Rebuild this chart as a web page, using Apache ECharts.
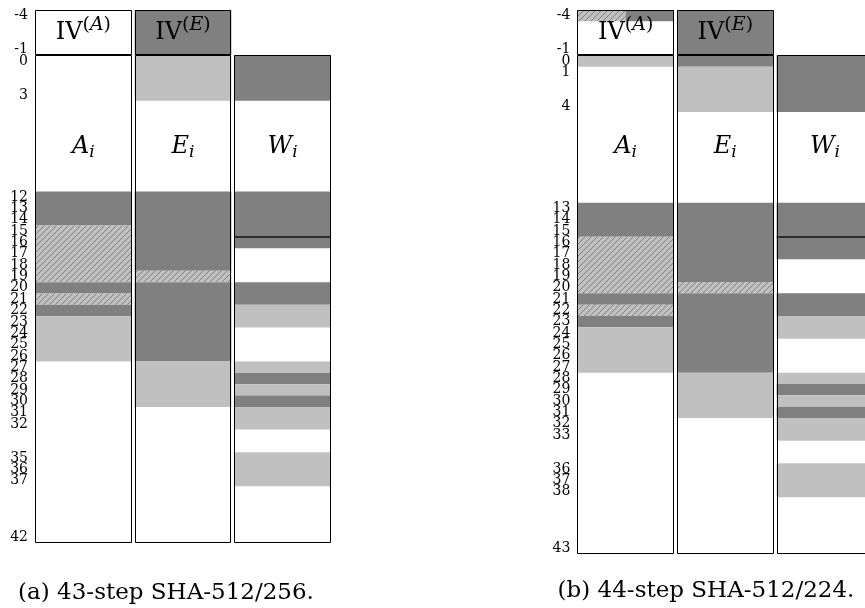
<!DOCTYPE html>
<html><head><meta charset="utf-8">
<script src="https://cdn.jsdelivr.net/npm/echarts@6/dist/echarts.min.js"></script>
<style>html,body{margin:0;padding:0;background:#fff}#c{width:865px;height:608px}</style>
</head><body><div id="c"></div>
<script>
// ---------- data ----------
const columnNames = ['A', 'E', 'W'];          // A_i, E_i, W_i
const ivNames = ['A', 'E'];                    // IV^(A) over A, IV^(E) over E
const captionA = '(a) 43-step SHA-512/256.';
const captionB = '(b) 44-step SHA-512/224.';
const rangeA = [-4, 43];                        // step bands -4 .. 42
const rangeB = [-4, 44];                        // step bands -4 .. 43
const ticksA = [-4, -1, 0, 3, 12, 13, 14, 15, 16, 17, 18, 19, 20, 21, 22, 23, 24, 25, 26, 27, 28, 29, 30, 31, 32, 35, 36, 37, 42];
const ticksB = [-4, -1, 0, 1, 4, 13, 14, 15, 16, 17, 18, 19, 20, 21, 22, 23, 24, 25, 26, 27, 28, 29, 30, 31, 32, 33, 36, 37, 38, 43];
// [column, fromStep, toStep(exclusive), kind, part]  kind: D dark, L light, H hatched; part: 0 full, 1 left half, 2 right half
const segsA = [
  [0, 12, 15, 'D', 0], [0, 15, 20, 'H', 0], [0, 20, 21, 'D', 0], [0, 21, 22, 'H', 0], [0, 22, 23, 'D', 0], [0, 23, 27, 'L', 0],
  [1, -4, 0, 'D', 0], [1, 0, 4, 'L', 0], [1, 12, 19, 'D', 0], [1, 19, 20, 'H', 0], [1, 20, 27, 'D', 0], [1, 27, 31, 'L', 0],
  [2, 0, 4, 'D', 0], [2, 12, 17, 'D', 0], [2, 20, 22, 'D', 0], [2, 22, 24, 'L', 0], [2, 27, 28, 'L', 0], [2, 28, 29, 'D', 0],
  [2, 29, 30, 'L', 0], [2, 30, 31, 'D', 0], [2, 31, 33, 'L', 0], [2, 35, 38, 'L', 0]
];
const segsB = [
  [0, -4, -3, 'H', 1], [0, -4, -3, 'D', 2], [0, 0, 1, 'L', 0], [0, 13, 16, 'D', 0], [0, 16, 21, 'H', 0], [0, 21, 22, 'D', 0],
  [0, 22, 23, 'H', 0], [0, 23, 24, 'D', 0], [0, 24, 28, 'L', 0],
  [1, -4, 0, 'D', 0], [1, 0, 1, 'D', 0], [1, 1, 5, 'L', 0], [1, 13, 20, 'D', 0], [1, 20, 21, 'H', 0], [1, 21, 28, 'D', 0], [1, 28, 32, 'L', 0],
  [2, 0, 5, 'D', 0], [2, 13, 18, 'D', 0], [2, 21, 23, 'D', 0], [2, 23, 25, 'L', 0], [2, 28, 29, 'L', 0], [2, 29, 30, 'D', 0],
  [2, 30, 31, 'L', 0], [2, 31, 32, 'D', 0], [2, 32, 34, 'L', 0], [2, 36, 39, 'L', 0]
];
// outlined boxes [column, fromStep, toStep]
const boxesA = [[0, -4, 0], [0, 0, 43], [1, -4, 0], [1, 0, 43], [2, 0, 43]];
const boxesB = [[0, -4, 0], [0, 0, 44], [1, -4, 0], [1, 0, 44], [2, 0, 44]];
// black separator lines [column, atStep]
const linesA = [[2, 16]];
const linesB = [[2, 16]];

// ---------- style / layout ----------
const SERIF = '"DejaVu Serif", "Liberation Serif", serif';
const COLW = 0.97;
const IV_POS = -1.95, NAME_POS = 8.05;
const DARK = '#808080', LIGHT = '#c0c0c0';

function makeHatch() {
  const p = 6, cv = document.createElement('canvas');
  cv.width = p; cv.height = p;
  const g = cv.getContext('2d');
  g.fillStyle = LIGHT; g.fillRect(0, 0, p, p);
  g.strokeStyle = DARK; g.lineWidth = 1;
  g.beginPath();
  g.moveTo(0, p); g.lineTo(p, 0);
  g.moveTo(-1, 1); g.lineTo(1, -1);
  g.moveTo(p - 1, p + 1); g.lineTo(p + 1, p - 1);
  g.stroke();
  return cv;
}
const hatchFill = { image: makeHatch(), repeat: 'repeat' };
const fillOf = { D: DARK, L: LIGHT, H: hatchFill };

const RICH = {
  r: { fontFamily: SERIF, fontSize: 24, fill: '#000' },
  s: { fontFamily: SERIF, fontSize: 19, fill: '#000', padding: [0, 0, 17, 0] },
  si: { fontFamily: SERIF, fontSize: 19, fontStyle: 'italic', fill: '#000', padding: [0, 0, 17, 0] },
  m: { fontFamily: SERIF, fontSize: 24, fontStyle: 'italic', fill: '#000' },
  sub: { fontFamily: SERIF, fontSize: 17, fontStyle: 'italic', fill: '#000', padding: [12, 0, 0, 0] }
};

function segRender(segs) {
  return function (params, api) {
    const s = segs[params.dataIndex];
    const x0 = api.value(0) + (s[4] === 2 ? COLW / 2 : 0);
    const x1 = api.value(0) + (s[4] === 1 ? COLW / 2 : COLW);
    const p0 = api.coord([x0, api.value(1)]);
    const p1 = api.coord([x1, api.value(2)]);
    return { type: 'rect', shape: { x: p0[0], y: p0[1], width: p1[0] - p0[0], height: p1[1] - p0[1] },
      style: { fill: fillOf[s[3]] } };
  };
}
function boxRender(params, api) {
  const p0 = api.coord([api.value(0), api.value(1)]);
  const p1 = api.coord([api.value(0) + COLW, api.value(2)]);
  const x0 = Math.round(p0[0]) + 0.5, x1 = Math.round(p1[0]) - 0.5;
  const y0 = Math.round(p0[1]) + 0.5, y1 = Math.round(p1[1]) - 0.5;
  return { type: 'rect', shape: { x: x0, y: y0, width: x1 - x0, height: y1 - y0 },
    style: { fill: null, stroke: '#000', lineWidth: 1 } };
}
function lineRender(params, api) {
  const p0 = api.coord([api.value(0), api.value(1)]);
  const p1 = api.coord([api.value(0) + COLW, api.value(1)]);
  const y = Math.round(p0[1]);
  return { type: 'line', shape: { x1: p0[0], y1: y, x2: p1[0], y2: y },
    style: { stroke: '#111', lineWidth: 1.6 } };
}
function textRender(items) {
  return function (params, api) {
    const it = items[params.dataIndex];
    const p = api.coord([api.value(0) + COLW / 2, api.value(1)]);
    return { type: 'text', x: p[0], y: p[1],
      style: { text: it[2], rich: RICH, align: 'center', verticalAlign: 'middle', fill: '#000' } };
  };
}
function textItems() {
  const out = [];
  ivNames.forEach((n, i) => out.push([i, IV_POS, '{r|IV}{s|(}{si|' + n + '}{s|)}']));
  columnNames.forEach((n, i) => out.push([i, NAME_POS, '{m|' + n + '}{sub|i}']));
  return out;
}
const textsA = textItems(), textsB = textItems();

function yAxisFor(idx, range, ticks) {
  return {
    gridIndex: idx, type: 'value', inverse: true, min: range[0], max: range[1], interval: 0.5,
    axisLine: { show: false }, axisTick: { show: false }, splitLine: { show: false },
    axisLabel: {
      margin: 7, fontFamily: SERIF, fontSize: 14, color: '#000',
      showMinLabel: true, showMaxLabel: true,
      formatter: function (v) { const k = Math.round((v - 0.5) * 2) / 2; return ticks.indexOf(k) >= 0 ? String(k) : ''; }
    }
  };
}
function seriesFor(idx, segs, boxes, lines, texts) {
  return [
    { type: 'custom', xAxisIndex: idx, yAxisIndex: idx, z: 2, silent: true, clip: false,
      renderItem: segRender(segs), data: segs.map(s => [s[0], s[1], s[2]]) },
    { type: 'custom', xAxisIndex: idx, yAxisIndex: idx, z: 3, silent: true, clip: false,
      renderItem: lineRender, data: lines.map(l => [l[0], l[1]]) },
    { type: 'custom', xAxisIndex: idx, yAxisIndex: idx, z: 4, silent: true, clip: false,
      renderItem: boxRender, data: boxes.map(b => [b[0], b[1], b[2]]) },
    { type: 'custom', xAxisIndex: idx, yAxisIndex: idx, z: 5, silent: true, clip: false,
      renderItem: textRender(texts), data: texts.map(t => [t[0], t[1]]) }
  ];
}

const chart = echarts.init(document.getElementById('c'), null, { renderer: 'canvas' });
chart.setOption({
  animation: false,
  backgroundColor: '#fff',
  grid: [
    { left: 35, top: 10, width: 299, height: 533, outerBoundsMode: 'none', containLabel: false },
    { left: 577.3, top: 10, width: 299, height: 544, outerBoundsMode: 'none', containLabel: false }
  ],
  xAxis: [
    { gridIndex: 0, type: 'value', min: 0, max: 3, show: false },
    { gridIndex: 1, type: 'value', min: 0, max: 3, show: false }
  ],
  yAxis: [yAxisFor(0, rangeA, ticksA), yAxisFor(1, rangeB, ticksB)],
  graphic: [
    { type: 'text', x: 166, y: 593, style: { text: captionA, font: '23px ' + SERIF, fill: '#000', align: 'center', verticalAlign: 'middle' } },
    { type: 'text', x: 706, y: 591, style: { text: captionB, font: '23px ' + SERIF, fill: '#000', align: 'center', verticalAlign: 'middle' } }
  ],
  series: seriesFor(0, segsA, boxesA, linesA, textsA).concat(seriesFor(1, segsB, boxesB, linesB, textsB))
});
</script></body></html>
